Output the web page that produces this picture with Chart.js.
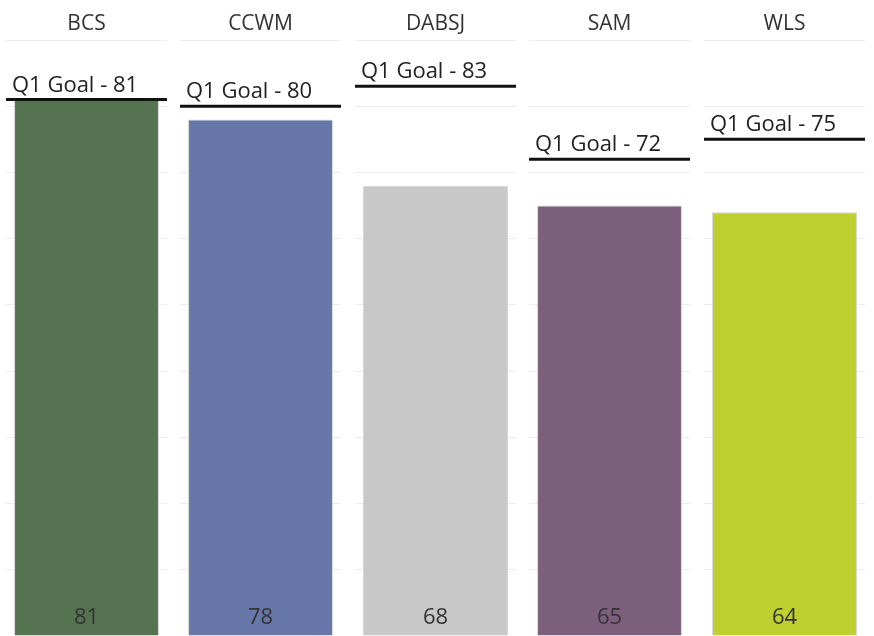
<!DOCTYPE html>
<html>
<head>
<meta charset="utf-8">
<script src="https://cdn.jsdelivr.net/npm/chart.js@4/dist/chart.umd.min.js"></script>
<style>
  html, body { margin: 0; padding: 0; background: #fff; }
  #paineis { display: flex; gap: 13.4px; padding-left: 6px; width: 874px; height: 636px; overflow: hidden; }
  #paineis canvas { flex: none; }
</style>
</head>
<body>
<div id="paineis"></div>
<script>
// dados
const categorias = ["BCS", "CCWM", "DABSJ", "SAM", "WLS"];
const valores = [81, 78, 68, 65, 64];
const metas = [81, 80, 83, 72, 75];
const cores = ["#557350", "#6877aa", "#c8c8c8", "#7b5f7d", "#bdd030"];

const fonte = "'Open Sans', 'Noto Sans', sans-serif";

// linha da meta + texto
const metaPlugin = {
  id: "meta",
  afterDatasetsDraw(chart, args, opts) {
    const { ctx, chartArea, scales } = chart;
    const y = scales.y.getPixelForValue(opts.valor);
    ctx.save();
    ctx.strokeStyle = "#111";
    ctx.lineWidth = 3;
    ctx.beginPath();
    ctx.moveTo(chartArea.left, y);
    ctx.lineTo(chartArea.right, y);
    ctx.stroke();
    ctx.fillStyle = "#222";
    ctx.font = "22px " + fonte;
    ctx.textAlign = "left";
    ctx.textBaseline = "alphabetic";
    ctx.fillText("Q1 Goal - " + opts.valor, chartArea.left + 6, y - 8);
    ctx.restore();
  }
};

// valor no pé da barra
const rotuloPlugin = {
  id: "rotulo",
  afterDatasetsDraw(chart) {
    const { ctx, chartArea } = chart;
    const barra = chart.getDatasetMeta(0).data[0];
    ctx.save();
    ctx.fillStyle = "#333";
    ctx.font = "22px " + fonte;
    ctx.textAlign = "center";
    ctx.textBaseline = "alphabetic";
    ctx.fillText(chart.data.datasets[0].data[0], barra.x, chartArea.bottom - 12);
    ctx.restore();
  }
};

const paineis = document.getElementById("paineis");

categorias.forEach((cat, i) => {
  const canvas = document.createElement("canvas");
  canvas.width = 161;
  canvas.height = 636;
  paineis.appendChild(canvas);

  new Chart(canvas.getContext("2d"), {
    type: "bar",
    data: {
      labels: [cat],
      datasets: [{
        data: [valores[i]],
        backgroundColor: cores[i],
        borderColor: "#d4d4d4",
        borderWidth: 1,
        categoryPercentage: 1,
        barPercentage: 0.9
      }]
    },
    options: {
      responsive: false,
      animation: false,
      layout: { padding: 0 },
      plugins: {
        legend: { display: false },
        tooltip: { enabled: false },
        title: {
          display: true,
          text: cat,
          color: "#333",
          font: { size: 21, family: fonte, weight: "normal" },
          padding: { top: 11, bottom: 3.8 }
        },
        meta: { valor: metas[i] }
      },
      scales: {
        x: { display: false },
        y: {
          min: 0,
          max: 90,
          ticks: { display: false, stepSize: 10 },
          grid: { color: "#ededed", drawTicks: false },
          border: { display: false }
        }
      }
    },
    plugins: [metaPlugin, rotuloPlugin]
  });
});
</script>
</body>
</html>
